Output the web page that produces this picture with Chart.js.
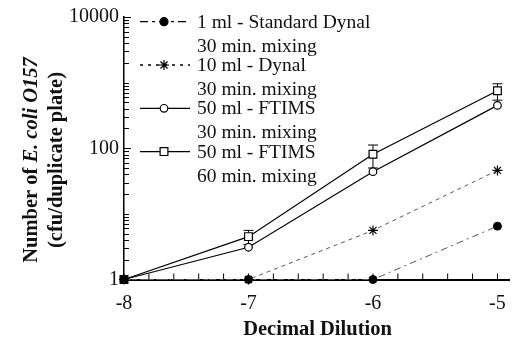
<!DOCTYPE html>
<html>
<head>
<meta charset="utf-8">
<script src="https://cdn.jsdelivr.net/npm/chart.js@4"></script>
<style>
  html, body { margin: 0; padding: 0; background: #fff; }
  #wrap { width: 518px; height: 342px; position: relative; }
</style>
</head>
<body>
<div id="wrap"><canvas id="myChart" width="518" height="342"></canvas></div>
<script>
// data
const dilutions = [-8, -7, -6, -5];
const standardDynal1ml = [1, 1, 1, 6.5];
const dynal10ml = [1, 1, 5.6, 46];
const ftims30min = [1, 3.1, 44, 450];
const ftims60min = [1, 4.5, 81, 750];
const ftims60minErr = [0, 1.1, 31, 210];

const seriesNames = [
  ["1 ml - Standard Dynal", "30 min. mixing"],
  ["10 ml - Dynal", "30 min. mixing"],
  ["50 ml - FTIMS", "30 min. mixing"],
  ["50 ml - FTIMS", "60 min. mixing"],
];
const yLabelValues = [1, 100, 10000];

const FONT = "'Liberation Serif', 'Times New Roman', serif";

function toPoints(values) {
  return dilutions.map((d, i) => ({ x: d, y: values[i] }));
}

// tick positions: every 0.2 on x, log minors on y
const xTickVals = [];
for (let i = 0; i <= 15; i++) xTickVals.push(Math.round((-8 + i * 0.2) * 10) / 10);
const yTickVals = [];
for (let p = 1; p <= 1000; p *= 10) {
  for (let m = 1; m <= 9; m++) yTickVals.push(m * p);
}
yTickVals.push(10000);

const legendDash = [[8, 4, 3, 4], [3, 5], [], []];

function line(ctx, x1, y1, x2, y2) {
  ctx.beginPath();
  ctx.moveTo(x1, y1);
  ctx.lineTo(x2, y2);
  ctx.stroke();
}

const errorBars = {
  id: "errorBars",
  beforeDatasetsDraw(chart) {
    const { ctx, scales: { x, y } } = chart;
    ctx.save();
    ctx.strokeStyle = "#000";
    ctx.lineWidth = 1;
    dilutions.forEach((d, i) => {
      const e = ftims60minErr[i];
      if (!e) return;
      const px = x.getPixelForValue(d);
      const top = y.getPixelForValue(ftims60min[i] + e);
      const bot = y.getPixelForValue(ftims60min[i] - e);
      line(ctx, px, top, px, bot);
      line(ctx, px - 5, top, px + 5, top);
      line(ctx, px - 5, bot, px + 5, bot);
    });
    ctx.restore();
  },
};

const axisDecor = {
  id: "axisDecor",
  afterDraw(chart) {
    const { ctx, scales: { x, y }, chartArea: a } = chart;
    ctx.save();
    ctx.strokeStyle = "#000";
    ctx.lineWidth = 1;
    // inward ticks
    xTickVals.forEach((v) => {
      const px = x.getPixelForValue(v);
      line(ctx, px, a.bottom, px, a.bottom - 6);
    });
    yTickVals.forEach((v) => {
      const py = Math.round(y.getPixelForValue(v)) + 0.5;
      const len = yLabelValues.includes(v) ? 7 : 5;
      line(ctx, a.left, py, a.left + len, py);
    });

    // legend
    chart.data.datasets.forEach((ds, i) => {
      const cy = 21.7 + 43.3 * i;
      ctx.save();
      ctx.strokeStyle = "#000";
      ctx.lineWidth = 1.3;
      ctx.setLineDash(legendDash[i]);
      line(ctx, 140, cy, 190, cy);
      ctx.restore();
      ctx.fillStyle = ds.pointBackgroundColor;
      ctx.strokeStyle = "#000";
      ctx.lineWidth = 1.2;
      ctx.beginPath();
      if (ds.pointStyle === "circle") {
        ctx.arc(164, cy, ds.pointRadius, 0, Math.PI * 2);
        ctx.fill();
        ctx.stroke();
      } else if (ds.pointStyle === "rect") {
        const s = ds.pointRadius * Math.SQRT1_2;
        ctx.rect(164 - s, cy - s, 2 * s, 2 * s);
        ctx.fill();
        ctx.stroke();
      } else {
        Chart.helpers.drawPoint(ctx, {
          pointStyle: ds.pointStyle,
          radius: ds.pointRadius,
          borderWidth: 1.2,
          rotation: 0,
        }, 164, cy);
      }
      ctx.fillStyle = "#111";
      ctx.font = "19.5px " + FONT;
      ctx.textAlign = "left";
      ctx.textBaseline = "middle";
      ctx.fillText(seriesNames[i][0], 197, cy + 1);
      ctx.fillText(seriesNames[i][1], 197, cy + 25);
    });

    // axis titles
    ctx.fillStyle = "#111";
    ctx.textBaseline = "middle";
    ctx.textAlign = "center";
    ctx.font = "bold 20.5px " + FONT;
    ctx.fillText("Decimal Dilution", 317.5, 330);

    ctx.save();
    ctx.translate(32, 160);
    ctx.rotate(-Math.PI / 2);
    const partA = "Number of ";
    const partB = "E. coli O157";
    ctx.font = "bold 20.5px " + FONT;
    const wA = ctx.measureText(partA).width;
    ctx.font = "italic bold 20.5px " + FONT;
    const wB = ctx.measureText(partB).width;
    ctx.textAlign = "left";
    ctx.font = "bold 20.5px " + FONT;
    ctx.fillText(partA, -(wA + wB) / 2, 0);
    ctx.font = "italic bold 20.5px " + FONT;
    ctx.fillText(partB, -(wA + wB) / 2 + wA, 0);
    ctx.textAlign = "center";
    ctx.font = "bold 20.5px " + FONT;
    ctx.fillText("(cfu/duplicate plate)", 0, 25);
    ctx.restore();

    ctx.restore();
  },
};

new Chart(document.getElementById("myChart"), {
  type: "scatter",
  data: {
    datasets: [
      {
        data: toPoints(standardDynal1ml),
        showLine: true,
        borderColor: "#555",
        borderWidth: 1,
        borderDash: [7, 4, 2, 4],
        pointStyle: "circle",
        pointRadius: 4,
        pointBackgroundColor: "#000",
        pointBorderColor: "#000",
      },
      {
        data: toPoints(dynal10ml),
        showLine: true,
        borderColor: "#555",
        borderWidth: 1,
        borderDash: [4, 4],
        pointStyle: "star",
        pointRadius: 5,
        pointBackgroundColor: "#000",
        pointBorderColor: "#000",
        pointBorderWidth: 1.2,
      },
      {
        data: toPoints(ftims30min),
        showLine: true,
        borderColor: "#000",
        borderWidth: 1.2,
        pointStyle: "circle",
        pointRadius: 3.8,
        pointBackgroundColor: "#fff",
        pointBorderColor: "#000",
      },
      {
        data: toPoints(ftims60min),
        showLine: true,
        borderColor: "#000",
        borderWidth: 1.2,
        pointStyle: "rect",
        pointRadius: 5.5,
        pointBackgroundColor: "#fff",
        pointBorderColor: "#000",
      },
    ],
  },
  options: {
    responsive: false,
    animation: false,
    clip: false,
    layout: { padding: { top: 15, right: 0, left: 0, bottom: 0 } },
    plugins: {
      legend: { display: false },
      tooltip: { enabled: false },
    },
    scales: {
      x: {
        type: "linear",
        min: -8,
        max: -4.9,
        afterBuildTicks: (scale) => {
          scale.ticks = xTickVals.map((v) => ({ value: v }));
        },
        afterFit: (scale) => {
          scale.height = 62.5;
        },
        grid: { display: false, drawTicks: false },
        border: { display: true, color: "#000", width: 2 },
        ticks: {
          autoSkip: false,
          maxRotation: 0,
          padding: 12,
          color: "#111",
          font: { family: FONT, size: 20 },
          callback: (value) => (Number.isInteger(value) ? String(value) : ""),
        },
      },
      y: {
        type: "logarithmic",
        min: 1,
        max: 10000,
        afterBuildTicks: (scale) => {
          scale.ticks = yTickVals.map((v) => ({ value: v }));
        },
        afterFit: (scale) => {
          scale.width = 124;
        },
        grid: { display: false, drawTicks: false },
        border: { display: true, color: "#000", width: 1.5 },
        ticks: {
          autoSkip: false,
          padding: 5,
          color: "#111",
          font: { family: FONT, size: 20 },
          callback: (value) => (yLabelValues.includes(value) ? String(value) : ""),
        },
      },
    },
  },
  plugins: [errorBars, axisDecor],
});
</script>
</body>
</html>
